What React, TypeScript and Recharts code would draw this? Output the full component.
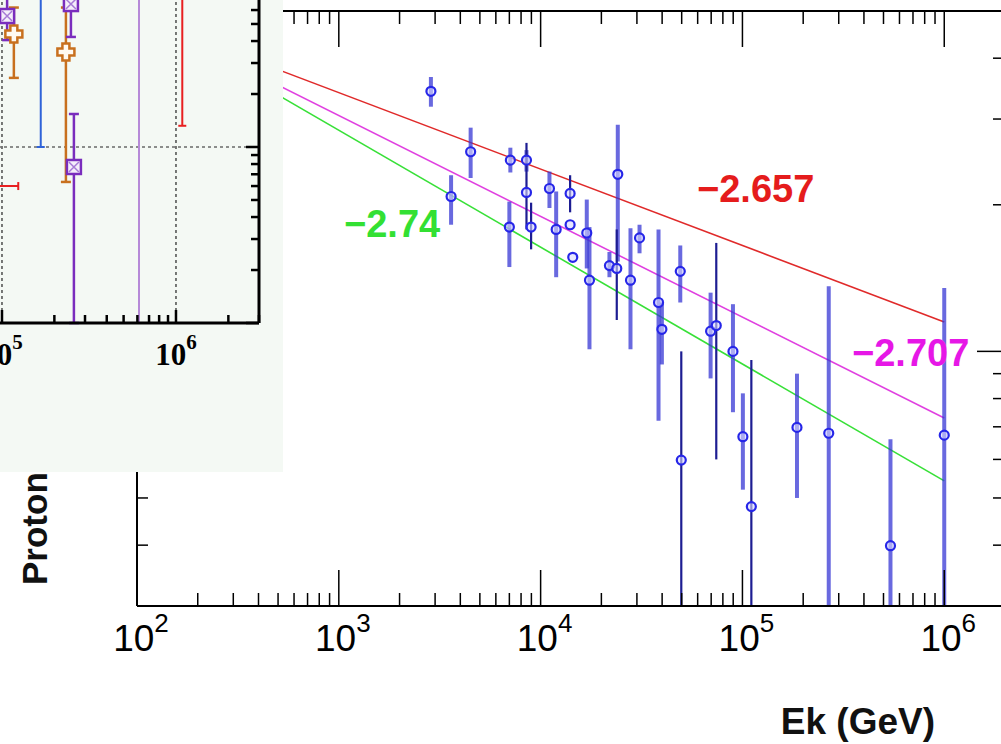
import React from "react";
import { ScatterChart, Scatter, XAxis, YAxis, ErrorBar, ReferenceLine } from "recharts";

// Proton spectrum points: Ek in GeV, flux scaled by E^2.5 (arbitrary units)
const lightEnergy = [2860, 3600, 4500, 7080, 7000, 8510, 11060, 11940, 14000, 14430, 16930, 17460, 21930, 24120, 27880, 30910, 38390, 39890, 49200, 69540, 89750, 100500, 186300, 267700, 541400, 1000000];
const lightFlux = [3.42, 2.08, 2.57, 2.47, 1.8, 2.47, 2.16, 1.78, 1.82, 1.56, 1.75, 1.4, 1.5, 2.31, 1.4, 1.71, 1.26, 1.11, 1.46, 1.1, 1.0, 0.668, 0.698, 0.679, 0.399, 0.673];
const lightLow = [3.18, 1.82, 2.27, 2.33, 1.49, 2.34, 1.97, 1.42, 1.82, 1.56, 1.48, 1.01, 1.42, 1.53, 1.01, 1.59, 0.72, 0.94, 1.26, 0.88, 0.75, 0.52, 0.5, 0.3, 0.3, 0.3];
const lightHigh = [3.66, 2.3, 2.88, 2.62, 2.03, 2.59, 2.34, 2.13, 1.82, 1.56, 2.05, 1.8, 1.6, 2.92, 1.79, 1.82, 1.78, 1.26, 1.65, 1.32, 1.25, 0.82, 0.9, 1.36, 0.66, 1.35];

const darkEnergy = [8510, 8970, 14000, 23840, 49770, 74190, 110700];
const darkFlux = [2.12, 1.8, 2.11, 1.48, 0.598, 1.13, 0.48];
const darkLow = [1.78, 1.62, 1.93, 1.16, 0.3, 0.6, 0.3];
const darkHigh = [2.68, 2.02, 2.3, 1.78, 1.0, 1.67, 0.96];

// power-law fits, normalised at 1 PeV
const fitIndex = [-2.657, -2.707, -2.74];
const fitNorm = [1.149, 0.73, 0.542];
const fitColor = ["#e02a2a", "#e040e0", "#38e038"];
const fitLabel = ["\u22122.657", "\u22122.707", "\u22122.74"];
const fitRange = [150, 1e6];

// inset: high-energy points from other experiments
const purpleE = [1.07e5, 2.49e5, 2.59e5];
const purpleFlux = [5.55, 6.49, 0.77];
const purpleLow = [4.05, 4.22, 0.1];
const purpleHigh = [8, 8, 1.54];

const orangeE = [1.17e5, 2.33e5];
const orangeFlux = [4.39, 3.46];
const orangeLow = [2.47, 0.633];
const orangeHigh = [6.2, 6.2];

const blueE = [1.67e5];
const blueFlux = [9];
const blueLow = [1.0];
const blueHigh = [9.5];

const lilacE = [6.13e5];
const lilacFlux = [9];
const lilacLow = [0.1];
const lilacHigh = [9.5];

const redE = [1.087e6, 8.0e4];
const redFlux = [9, 0.6];
const redLow = [1.32, 0.6];
const redHigh = [9.5, 0.6];
const redELow = [1.087e6, 5.0e4];
const redEHigh = [1.087e6, 1.24e5];

const rows = (e: number[], f: number[], lo: number[], hi: number[]) =>
  e.map((x, i) => ({ e: x, flux: f[i], err: [f[i] - lo[i], hi[i] - f[i]] }));

const lightRows = rows(lightEnergy, lightFlux, lightLow, lightHigh);
const darkRows = rows(darkEnergy, darkFlux, darkLow, darkHigh);
const purpleRows = rows(purpleE, purpleFlux, purpleLow, purpleHigh);
const orangeRows = rows(orangeE, orangeFlux, orangeLow, orangeHigh);
const blueRows = rows(blueE, blueFlux, blueLow, blueHigh);
const lilacRows = rows(lilacE, lilacFlux, lilacLow, lilacHigh);
const redRows = rows(redE, redFlux, redLow, redHigh).map((r, i) => ({
  ...r,
  xerr: [redE[i] - redELow[i], redEHigh[i] - redE[i]],
}));

const logTicks = (min: number, max: number) => {
  const out: number[] = [];
  for (let d = Math.floor(Math.log10(min)); d <= Math.ceil(Math.log10(max)); d++) {
    for (let m = 1; m <= 9; m++) {
      const v = m * Math.pow(10, d);
      if (v >= min * 0.999 && v <= max * 1.001) out.push(v);
    }
  }
  return out;
};

const isDecade = (v: number) => Math.abs(Math.log10(v) - Math.round(Math.log10(v))) < 1e-6;

const SANS = '"Liberation Sans", Arial, Helvetica, sans-serif';
const SERIF = '"Liberation Serif", "Times New Roman", serif';

// ticks drawn inside the frame, ROOT style
const makeXTick = (dir: number, major: number, minor: number, width: number, label?: (v: number, x: number, y: number) => React.ReactNode) =>
  (props: any) => {
    const { x, y, payload } = props;
    const big = isDecade(payload.value);
    return (
      <g>
        <line x1={x} x2={x} y1={y} y2={y + dir * (big ? major : minor)} stroke="#000" strokeWidth={width} />
        {big && label ? label(payload.value, x, y) : null}
      </g>
    );
  };

const makeYTick = (dir: number, major: number, minor: number, width: number) => (props: any) => {
  const { x, y, payload } = props;
  const big = isDecade(payload.value);
  return <line x1={x} x2={x + dir * (big ? major : minor)} y1={y} y2={y} stroke="#000" strokeWidth={width} />;
};

const mainLabel = (v: number, x: number, y: number) => (
  <text x={x + 4} y={y + 45} textAnchor="middle" fontFamily={SANS} fontSize={37} fill="#000">
    10
    <tspan dy={-19} fontSize={26}>{Math.round(Math.log10(v))}</tspan>
  </text>
);

const insetLabel = (v: number, x: number, y: number) => (
  <text x={x} y={y + 42} textAnchor="middle" fontFamily={SERIF} fontWeight="bold" fontSize={31} fill="#000">
    10
    <tspan dy={-16} fontSize={21}>{Math.round(Math.log10(v))}</tspan>
  </text>
);

const Ring = (p: any) => (
  <circle cx={p.cx} cy={p.cy} r={4.5} fill="rgba(215,215,255,0.6)" stroke="#2626e8" strokeWidth={2.2} />
);

const BoxX = (p: any) => (
  <g>
    <rect x={p.cx - 7} y={p.cy - 7} width={14} height={14} fill="#f4eefa" stroke="#7a2dbd" strokeWidth={2.5} />
    <path d={`M${p.cx - 5} ${p.cy - 5}L${p.cx + 5} ${p.cy + 5}M${p.cx + 5} ${p.cy - 5}L${p.cx - 5} ${p.cy + 5}`} stroke="#a77ad6" strokeWidth={1.5} />
  </g>
);

const Cross = (p: any) => {
  const { cx, cy } = p;
  const a = 3.5;
  const b = 8.5;
  const pts = [
    [-a, -b], [a, -b], [a, -a], [b, -a], [b, a], [a, a], [a, b], [-a, b], [-a, a], [-b, a], [-b, -a], [-a, -a],
  ].map(([dx, dy]) => `${cx + dx},${cy + dy}`).join(" ");
  return <polygon points={pts} fill="#fffaf2" stroke="#c8701e" strokeWidth={2.5} />;
};

const Dot = (p: any) => <circle cx={p.cx} cy={p.cy} r={3} fill={p.fill} />;

const mainXTicks = logTicks(100, 2e6);
const mainYTicks = logTicks(0.3, 5);
const insetXTicks = logTicks(1e4, 3e6);
const insetYTicks = logTicks(0.1, 10);

export default function App() {
  return (
    <div style={{ position: "fixed", left: 0, top: 0, width: 1001, height: 744, overflow: "hidden", background: "#fff" }}>
      <ScatterChart
        width={1040}
        height={744}
        margin={{ top: 10, right: 34, bottom: 137, left: 136 }}
        style={{ position: "absolute", left: 0, top: 0 }}
      >
        <XAxis
          xAxisId="b"
          dataKey="e"
          type="number"
          scale="log"
          domain={[100, 2e6]}
          allowDataOverflow
          ticks={mainXTicks}
          interval={0}
          height={1}
          tickSize={0}
          tickMargin={0}
          axisLine={{ stroke: "#000", strokeWidth: 2 }}
          tickLine={false}
          tick={makeXTick(-1, 36, 13, 1.5, mainLabel)}
        />
        <XAxis
          xAxisId="t"
          orientation="top"
          dataKey="e"
          type="number"
          scale="log"
          domain={[100, 2e6]}
          allowDataOverflow
          ticks={mainXTicks}
          interval={0}
          height={1}
          tickSize={0}
          tickMargin={0}
          axisLine={{ stroke: "#000", strokeWidth: 2 }}
          tickLine={false}
          tick={makeXTick(1, 36, 13, 1.5)}
        />
        <YAxis
          yAxisId="l"
          dataKey="flux"
          type="number"
          scale="log"
          domain={[0.3, 5]}
          allowDataOverflow
          ticks={mainYTicks}
          interval={0}
          width={1}
          tickSize={0}
          tickMargin={0}
          axisLine={{ stroke: "#000", strokeWidth: 2 }}
          tickLine={false}
          tick={makeYTick(1, 28, 11, 1.5)}
        />
        <YAxis
          yAxisId="r"
          orientation="right"
          dataKey="flux"
          type="number"
          scale="log"
          domain={[0.3, 5]}
          allowDataOverflow
          ticks={mainYTicks}
          interval={0}
          width={1}
          tickSize={0}
          tickMargin={0}
          axisLine={{ stroke: "#000", strokeWidth: 2 }}
          tickLine={false}
          tick={makeYTick(-1, 28, 12, 1.5)}
        />
        {fitIndex.map((g, i) => (
          <ReferenceLine
            key={g}
            xAxisId="b"
            yAxisId="l"
            segment={fitRange.map((e) => ({ x: e, y: fitNorm[i] * Math.pow(e / 1e6, g + 2.5) }))}
            stroke={fitColor[i]}
            strokeWidth={1.6}
            ifOverflow="visible"
          />
        ))}
        <Scatter xAxisId="b" yAxisId="l" data={lightRows} dataKey="flux" shape={Ring} isAnimationActive={false}>
          <ErrorBar dataKey="err" direction="y" width={0} stroke="rgba(55,55,212,0.75)" strokeWidth={4} />
        </Scatter>
        <Scatter xAxisId="b" yAxisId="l" data={darkRows} dataKey="flux" shape={Ring} isAnimationActive={false}>
          <ErrorBar dataKey="err" direction="y" width={0} stroke="#1d1d92" strokeWidth={2.2} />
        </Scatter>
      </ScatterChart>

      <svg width={1001} height={744} style={{ position: "absolute", left: 0, top: 0, pointerEvents: "none" }}>
        <text x={697} y={202} fontFamily={SANS} fontWeight="bold" fontSize={38} fill="#e51c1c">{fitLabel[0]}</text>
        <text x={852} y={366} fontFamily={SANS} fontWeight="bold" fontSize={38} fill="#e617e6">{fitLabel[1]}</text>
        <text x={344} y={237} fontFamily={SANS} fontWeight="bold" fontSize={38} fill="#33e033">{fitLabel[2]}</text>
        <text x={935} y={734} textAnchor="end" fontFamily={SANS} fontWeight="bold" fontSize={37} fill="#111">Ek (GeV)</text>
        <text transform="translate(47,585) rotate(-90)" fontFamily={SANS} fontWeight="bold" fontSize={35} fill="#111">
          Proton Flux
        </text>
      </svg>

      <div style={{ position: "absolute", left: 0, top: 0, width: 283, height: 472, overflow: "hidden", background: "#f4f9f4" }}>
        <ScatterChart
          width={483}
          height={512}
          margin={{ top: 11, right: 23, bottom: 148, left: 28 }}
          style={{ position: "absolute", left: -200, top: -40 }}
        >
          <XAxis
            dataKey="e"
            type="number"
            scale="log"
            domain={[1e4, 3e6]}
            allowDataOverflow
            ticks={insetXTicks}
            interval={0}
            height={1}
            tickSize={0}
            tickMargin={0}
            axisLine={{ stroke: "#000", strokeWidth: 3 }}
            tickLine={false}
            tick={makeXTick(-1, 13, 8, 2.5, insetLabel)}
          />
          <YAxis
            yAxisId="r"
            orientation="right"
            dataKey="flux"
            type="number"
            scale="log"
            domain={[0.1, 10]}
            allowDataOverflow
            ticks={insetYTicks}
            interval={0}
            width={1}
            tickSize={0}
            tickMargin={0}
            axisLine={{ stroke: "#000", strokeWidth: 3 }}
            tickLine={false}
            tick={makeYTick(-1, 13, 8, 2.5)}
          />
          <ReferenceLine yAxisId="r" y={1} stroke="#222" strokeWidth={1.2} strokeDasharray="3 3" />
          <ReferenceLine yAxisId="r" x={1e5} stroke="#222" strokeWidth={1.2} strokeDasharray="3 3" />
          <ReferenceLine yAxisId="r" x={1e6} stroke="#222" strokeWidth={1.2} strokeDasharray="3 3" />
          <Scatter yAxisId="r" data={lilacRows} dataKey="flux" shape={() => null} isAnimationActive={false}>
            <ErrorBar dataKey="err" direction="y" width={0} stroke="#b68ad8" strokeWidth={2} />
          </Scatter>
          <Scatter yAxisId="r" data={blueRows} dataKey="flux" fill="#2f63d8" shape={Dot} isAnimationActive={false}>
            <ErrorBar dataKey="err" direction="y" width={4} stroke="#2f63d8" strokeWidth={2} />
          </Scatter>
          <Scatter yAxisId="r" data={redRows} dataKey="flux" fill="#e82020" shape={Dot} isAnimationActive={false}>
            <ErrorBar dataKey="err" direction="y" width={4} stroke="#e82020" strokeWidth={2} />
            <ErrorBar dataKey="xerr" direction="x" width={4} stroke="#e82020" strokeWidth={2} />
          </Scatter>
          <Scatter yAxisId="r" data={orangeRows} dataKey="flux" shape={Cross} isAnimationActive={false}>
            <ErrorBar dataKey="err" direction="y" width={5} stroke="#c8701e" strokeWidth={2.5} />
          </Scatter>
          <Scatter yAxisId="r" data={purpleRows} dataKey="flux" shape={BoxX} isAnimationActive={false}>
            <ErrorBar dataKey="err" direction="y" width={5} stroke="#7a2dbd" strokeWidth={2.5} />
          </Scatter>
        </ScatterChart>
      </div>
    </div>
  );
}
